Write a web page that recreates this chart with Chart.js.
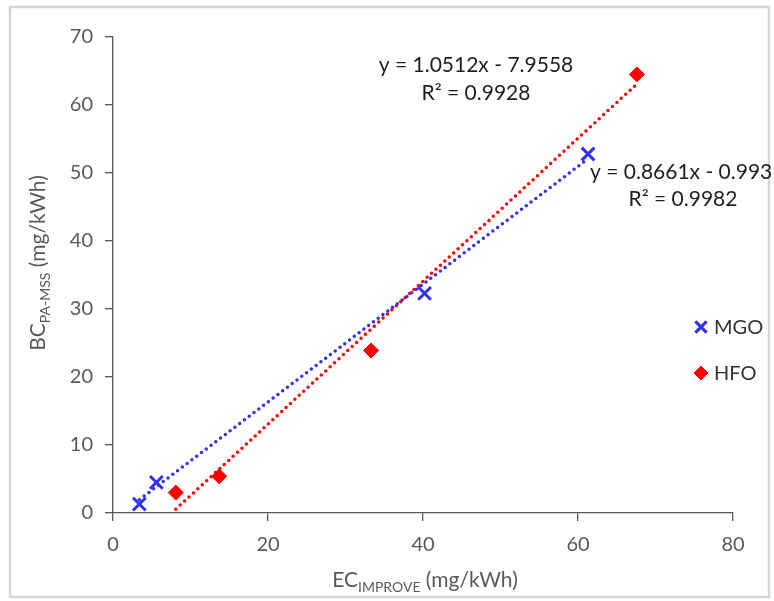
<!DOCTYPE html>
<html><head><meta charset="utf-8">
<script src="https://cdn.jsdelivr.net/npm/chart.js@4.4.1/dist/chart.umd.min.js"></script>
<style>html,body{margin:0;padding:0;background:#fff;}#wrap{width:774px;height:601px;position:relative;}</style>
</head><body><div id="wrap"><canvas id="c" width="774" height="601"></canvas></div>
<script>
// Data
const mgoX = [3.4, 5.6, 40.2, 61.3];
const mgoY = [1.3, 4.5, 32.3, 52.8];
const hfoX = [8.1, 13.7, 33.3, 67.6];
const hfoY = [3.0, 5.4, 23.9, 64.5];
// trendline end points (as shown)
const mgoTrendX = [3.4, 61.3];
const mgoTrendY = [1.95, 52.1];
const hfoTrendX = [8.1, 67.6];
const hfoTrendY = [0.56, 63.1];
const xTicks = [0, 20, 40, 60, 80];
const yTicks = [0, 10, 20, 30, 40, 50, 60, 70];
const seriesNames = ['MGO', 'HFO'];
const eqMGO = ['y = 0.8661x - 0.993', 'R² = 0.9982'];
const eqHFO = ['y = 1.0512x - 7.9558', 'R² = 0.9928'];

const BLUE = '#3030ee', RED = '#ff0000', AX = '#595959', TXT = '#595959';
const FONT = 'Lato, "Open Sans", sans-serif';

const pts = (xs, ys) => xs.map((x, i) => ({x, y: ys[i]}));

const overlay = {
  id: 'overlay',
  beforeDraw(chart) {
    const ctx = chart.ctx;
    ctx.save();
    ctx.fillStyle = '#fff';
    ctx.fillRect(0, 0, chart.width, chart.height);
    ctx.strokeStyle = '#d6d6d6';
    ctx.lineWidth = 2.5;
    ctx.strokeRect(10, 7, 759, 590);
    ctx.restore();
  },
  afterDraw(chart) {
    const ctx = chart.ctx;
    ctx.save();
    // equations
    ctx.fillStyle = '#1e1e1e';
    ctx.font = '21px ' + FONT;
    ctx.textBaseline = 'middle';
    ctx.textAlign = 'center';
    ctx.fillText(eqHFO[0], 476, 65);
    ctx.fillText(eqHFO[1], 476, 93);
    ctx.textAlign = 'left';
    ctx.fillText(eqMGO[0], 590, 172);
    ctx.textAlign = 'center';
    ctx.fillText(eqMGO[1], 683, 199);
    // legend
    const h = Chart.helpers;
    ctx.lineWidth = 3;
    ctx.strokeStyle = BLUE; ctx.fillStyle = BLUE;
    h.drawPoint(ctx, {pointStyle: 'crossRot', radius: 8, rotation: 0, borderWidth: 3}, 701, 327);
    ctx.lineWidth = 1;
    ctx.strokeStyle = RED; ctx.fillStyle = RED;
    h.drawPoint(ctx, {pointStyle: 'rectRot', radius: 7, rotation: 0, borderWidth: 1}, 701, 373);
    ctx.fillStyle = '#333';
    ctx.textAlign = 'left';
    ctx.font = '20px ' + FONT;
    ctx.fillText(seriesNames[0], 714, 328);
    ctx.fillText(seriesNames[1], 714, 374);
    // axis titles with subscripts
    drawSub(ctx, [['EC', 21, 0], ['IMPROVE', 14, 5], [' (mg/kWh)', 21, 0]], 425, 580, false);
    drawSub(ctx, [['BC', 21, 0], ['PA-MSS', 14, 5], [' (mg/kWh)', 21, 0]], 38, 263, true);
    ctx.restore();
  }
};
function drawSub(ctx, parts, cx, cy, rot) {
  ctx.save();
  ctx.fillStyle = TXT;
  ctx.textBaseline = 'alphabetic';
  ctx.textAlign = 'left';
  let w = 0;
  parts.forEach(p => { ctx.font = p[1] + 'px ' + FONT; w += ctx.measureText(p[0]).width; });
  ctx.translate(cx, cy);
  if (rot) ctx.rotate(-Math.PI / 2);
  let x = -w / 2;
  parts.forEach(p => { ctx.font = p[1] + 'px ' + FONT; ctx.fillText(p[0], x, 7 + p[2]); x += ctx.measureText(p[0]).width; });
  ctx.restore();
}

new Chart(document.getElementById('c'), {
  type: 'scatter',
  data: {
    datasets: [
      {label: seriesNames[0], data: pts(mgoX, mgoY), pointStyle: 'crossRot', pointRadius: 9, pointBorderWidth: 3, borderColor: BLUE, backgroundColor: BLUE, order: 0},
      {label: seriesNames[1], data: pts(hfoX, hfoY), pointStyle: 'rectRot', pointRadius: 7.5, pointBorderWidth: 1, borderColor: RED, backgroundColor: RED, order: 0},
      {label: 'MGO trend', data: pts(mgoTrendX, mgoTrendY), showLine: true, pointRadius: 0, borderColor: BLUE, borderWidth: 3.5, borderDash: [0, 6], borderCapStyle: 'round', order: 1},
      {label: 'HFO trend', data: pts(hfoTrendX, hfoTrendY), showLine: true, pointRadius: 0, borderColor: RED, borderWidth: 3.5, borderDash: [0, 6], borderCapStyle: 'round', order: 1}
    ]
  },
  options: {
    responsive: false,
    animation: false,
    layout: {padding: {left: 0, top: 37, right: 41, bottom: 0}},
    plugins: {legend: {display: false}, tooltip: {enabled: false}},
    scales: {
      x: {
        type: 'linear', min: 0, max: 80,
        afterBuildTicks: s => { s.ticks = xTicks.map(v => ({value: v})); },
        afterFit: s => { s.height = 88; },
        ticks: {color: TXT, font: {family: FONT, size: 20}, padding: 12},
        grid: {drawOnChartArea: false, tickLength: 8, color: AX, lineWidth: 1.3},
        border: {color: AX, width: 1.3}
      },
      y: {
        type: 'linear', min: 0, max: 70,
        afterBuildTicks: s => { s.ticks = yTicks.map(v => ({value: v})); },
        afterFit: s => { s.width = 113; },
        ticks: {color: TXT, font: {family: FONT, size: 20}, padding: 12},
        grid: {drawOnChartArea: false, tickLength: 8, color: AX, lineWidth: 1.3},
        border: {color: AX, width: 1.3}
      }
    }
  },
  plugins: [overlay]
});
</script></body></html>
